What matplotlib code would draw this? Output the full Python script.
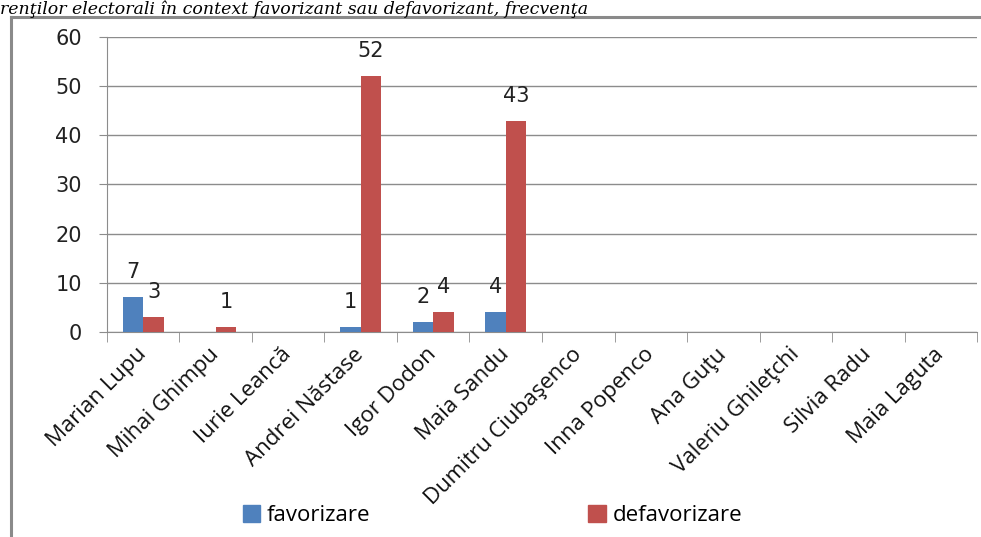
import matplotlib
matplotlib.use("Agg")
import matplotlib.pyplot as plt
from matplotlib.lines import Line2D
from matplotlib.patches import Patch
import numpy as np

candidates = ["Marian Lupu", "Mihai Ghimpu", "Iurie Leancă", "Andrei Năstase",
              "Igor Dodon", "Maia Sandu", "Dumitru Ciubaşenco", "Inna Popenco",
              "Ana Guţu", "Valeriu Ghileţchi", "Silvia Radu", "Maia Laguta"]
favorizare = [7, 0, 0, 1, 2, 4, 0, 0, 0, 0, 0, 0]
defavorizare = [3, 1, 0, 52, 4, 43, 0, 0, 0, 0, 0, 0]
series_names = ["favorizare", "defavorizare"]
title = "renţilor electorali în context favorizant sau defavorizant, frecvenţa"

blue = "#4F81BD"
red = "#C0504D"
grid_col = "#8C8C8C"

fig = plt.figure(figsize=(9.81, 5.37), dpi=100)
ax = fig.add_axes([0.109, 0.382, 0.887, 0.549])

x = np.arange(len(candidates))
w = 0.285
b1 = ax.bar(x - w / 2, favorizare, w, color=blue, zorder=3)
b2 = ax.bar(x + w / 2, defavorizare, w, color=red, zorder=3)

# value labels only for non-zero bars
for bars, vals in ((b1, favorizare), (b2, defavorizare)):
    for rect, v in zip(bars, vals):
        if v:
            ax.annotate(str(v), (rect.get_x() + rect.get_width() / 2, v),
                        xytext=(0, 18), textcoords="offset points",
                        ha="center", va="center", fontsize=15, color="#222222")

ax.set_xlim(-0.5, len(candidates) - 0.5)
ax.set_ylim(0, 60)
ax.set_yticks(range(0, 61, 10))
ax.yaxis.grid(True, color=grid_col, lw=1, zorder=0)
ax.tick_params(axis="y", labelsize=15, length=6, color=grid_col, pad=12,
               labelcolor="#222222")

ax.set_xticks(x)
ax.set_xticklabels(candidates, rotation=45, ha="right", va="center",
                   rotation_mode="anchor", fontsize=16, family="Open Sans",
                   color="#111111")
ax.tick_params(axis="x", which="major", length=0, pad=14)
ax.set_xticks(np.arange(-0.5, len(candidates)), minor=True)
ax.tick_params(axis="x", which="minor", length=7, color=grid_col)

for s in ("top", "right"):
    ax.spines[s].set_visible(False)
for s in ("left", "bottom"):
    ax.spines[s].set_color(grid_col)

# chart area frame (left and top edges visible)
fig.add_artist(Line2D([0.011, 0.011], [0, 1 - 17 / 537], color="#8A8A8A", lw=2.2))
fig.add_artist(Line2D([0.011, 1], [1 - 17 / 537, 1 - 17 / 537], color="#8A8A8A", lw=2.2))

fig.text(0.0, 1 - 14 / 537, title, family="DejaVu Serif", style="italic",
         fontsize=12.5, va="baseline", ha="left", zorder=5)

handles = [Patch(color=blue), Patch(color=red)]
fig.legend(handles, series_names, loc="center", bbox_to_anchor=(0.502, 0.04),
           ncol=2, frameon=False, prop={"family": "Open Sans", "size": 16},
           handlelength=0.8, handleheight=0.8, handletextpad=0.3, columnspacing=9.8)

fig.savefig("out.png", dpi=100)
